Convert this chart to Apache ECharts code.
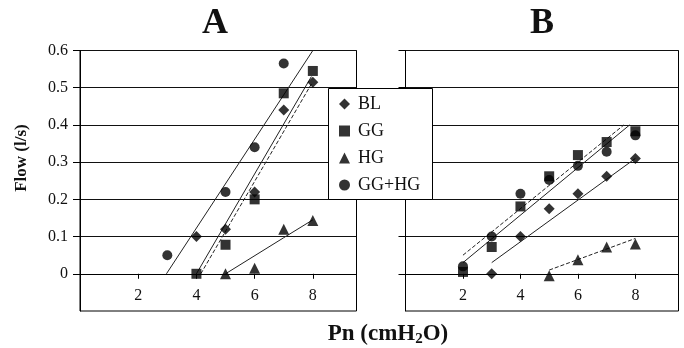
<!DOCTYPE html>
<html>
<head>
<meta charset="utf-8">
<script src="https://cdn.jsdelivr.net/npm/echarts@6.0.0/dist/echarts.min.js"></script>
<style>
  html, body { margin: 0; padding: 0; background: #fff; }
  #main { width: 684px; height: 348px; }
</style>
</head>
<body>
<div id="main"></div>
<script>
// Pn values (cmH2O)
var pn = [2, 3, 4, 5, 6, 7, 8];

// panel A, flow (l/s)
var blA   = [null, null, 0.10, 0.12, 0.22, 0.44, 0.515];
var ggA   = [null, null, 0, 0.078, 0.20, 0.485, 0.545];
var hgA   = [null, null, null, 0, 0.015, 0.12, 0.143];
var gghgA = [null, 0.05, null, 0.22, 0.34, 0.565, 0.602];

// panel B, flow (l/s)
var blB   = [null, 0, 0.10, 0.175, 0.215, 0.262, 0.31];
var ggB   = [0.005, 0.072, 0.181, 0.262, 0.319, 0.354, 0.383];
var hgB   = [null, null, null, -0.005, 0.038, 0.072, 0.08];
var gghgB = [0.02, 0.10, 0.215, 0.252, 0.29, 0.328, 0.372];

// trend lines [pn, flow]
var fitA_gghg = [[2.97, 0], [8, 0.6]];
var fitA_gg   = [[4.0, 0], [7.95, 0.53]];
var fitA_bl   = [[4.15, 0], [7.95, 0.51]];
var fitA_hg   = [[5, 0], [7, 0.097], [8, 0.145]];
var fitB_gg   = [[2, 0.05], [7.6, 0.40]];
var fitB_gghg = [[2, 0.03], [7.8, 0.40]];
var fitB_bl   = [[3, 0.03], [8, 0.31]];
var fitB_hg   = [[5, 0.01], [8, 0.095]];

var yTicks = [0, 0.1, 0.2, 0.3, 0.4, 0.5, 0.6];
var xLabels = [2, 4, 6, 8];
var xTicks = [0, 2, 4, 6, 8];

var FONT = 'Liberation Serif';
var GRID_H = 260.5;

function pairs(ys) {
    return pn.map(function (x, i) { return ys[i] == null ? null : [x, ys[i]]; })
             .filter(function (d) { return d; });
}

function xAxisOf(idx) {
    return {
        gridIndex: idx, type: 'value', min: 0, max: 9.5, interval: 2,
        position: 'bottom',
        // axis crosses at flow = 0, i.e. 0.1 of 0.7 above the bottom edge
        offset: -GRID_H * 0.1 / 0.7,
        axisLine: {onZero: false, lineStyle: {color: '#000', width: 1}},
        axisTick: {show: true, length: 5, customValues: xTicks, lineStyle: {color: '#000'}},
        axisLabel: {customValues: xLabels, margin: 14, color: '#111', fontFamily: FONT, fontSize: 16},
        splitLine: {show: false}
    };
}

function yAxisOf(idx, labels) {
    return {
        gridIndex: idx, type: 'value', min: -0.1, max: 0.6, interval: 0.1,
        axisLine: {show: true, onZero: false, lineStyle: {color: '#000', width: 1}},
        axisTick: {show: true, length: 7, customValues: yTicks, lineStyle: {color: '#000'}},
        axisLabel: {show: labels, customValues: yTicks, margin: 12, color: '#111',
                    fontFamily: FONT, fontSize: 16},
        splitLine: {show: true, lineStyle: {color: '#111', width: 1}}
    };
}

function marks(name, sym, size, ys, idx) {
    return {
        name: name, type: 'scatter', xAxisIndex: idx, yAxisIndex: idx,
        symbol: sym, symbolSize: size, data: pairs(ys),
        itemStyle: {color: '#000'}, z: 3
    };
}

function fit(data, idx, dash) {
    return {
        name: 'fit', type: 'line', xAxisIndex: idx, yAxisIndex: idx,
        data: data, symbol: 'none', silent: true, z: 2,
        lineStyle: {color: '#222', width: 1, type: dash ? [4, 2] : 'solid'}
    };
}

var chart = echarts.init(document.getElementById('main'));

chart.setOption({
    animation: false,
    backgroundColor: '#fff',
    grid: [
        {left: 80, top: 50.5, width: 276.5, height: GRID_H, show: true, borderColor: '#000', borderWidth: 1},
        {left: 405.5, top: 50.5, width: 273, height: GRID_H, show: true, borderColor: '#000', borderWidth: 1}
    ],
    xAxis: [xAxisOf(0), xAxisOf(1)],
    yAxis: [yAxisOf(0, true), yAxisOf(1, false)],
    legend: {
        orient: 'vertical', left: 339, top: 95, z: 10, padding: 0,
        itemWidth: 11, itemHeight: 11, itemGap: 9,
        textStyle: {fontFamily: FONT, fontSize: 18, lineHeight: 18, color: '#111', padding: [0, 0, 0, 3]},
        data: [
            {name: 'BL', icon: 'diamond'},
            {name: 'GG', icon: 'rect'},
            {name: 'HG', icon: 'triangle'},
            {name: 'GG+HG', icon: 'circle'}
        ]
    },
    graphic: [
        {type: 'rect', z: 8, shape: {x: 328.5, y: 88.5, width: 104, height: 111},
         style: {fill: '#fff', stroke: '#000', lineWidth: 1}},
        {type: 'text', x: 215, y: 24, style: {text: 'A', font: 'bold 36px "Liberation Serif"',
         fill: '#111', align: 'center', verticalAlign: 'middle'}},
        {type: 'text', x: 542, y: 24, style: {text: 'B', font: 'bold 36px "Liberation Serif"',
         fill: '#111', align: 'center', verticalAlign: 'middle'}},
        {type: 'text', x: 22, y: 158, rotation: Math.PI / 2,
         style: {text: 'Flow (l/s)', font: 'bold 17px "Liberation Serif"', fill: '#111',
                 align: 'center', verticalAlign: 'middle'}},
        {type: 'text', x: 388, y: 334,
         style: {text: '{a|Pn (cmH}{s|2}{a|O)}', align: 'center', verticalAlign: 'middle',
                 rich: {
                     a: {fontFamily: FONT, fontWeight: 'bold', fontSize: 23, fill: '#111', color: '#111'},
                     s: {fontFamily: FONT, fontWeight: 'bold', fontSize: 15, fill: '#111', color: '#111',
                         padding: [10, 0, 0, 0]}
                 }}}
    ],
    series: [
        fit(fitA_gghg, 0, false), fit(fitA_gg, 0, false), fit(fitA_bl, 0, true), fit(fitA_hg, 0, false),
        marks('BL', 'diamond', 11, blA, 0),
        marks('GG', 'rect', 10, ggA, 0),
        marks('HG', 'triangle', 11, hgA, 0),
        marks('GG+HG', 'circle', 10, gghgA, 0),

        fit(fitB_gghg, 1, false), fit(fitB_gg, 1, true), fit(fitB_bl, 1, false), fit(fitB_hg, 1, true),
        marks('BL', 'diamond', 11, blB, 1),
        marks('GG', 'rect', 10, ggB, 1),
        marks('HG', 'triangle', 11, hgB, 1),
        marks('GG+HG', 'circle', 10, gghgB, 1)
    ]
});
</script>
</body>
</html>
